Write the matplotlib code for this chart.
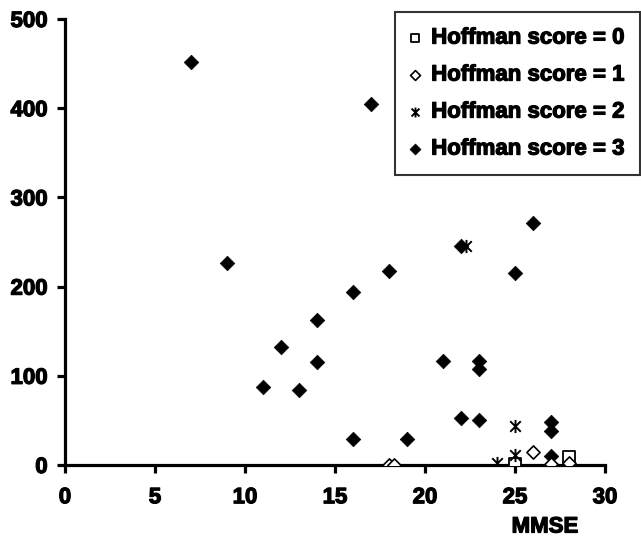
import matplotlib
matplotlib.use("Agg")
import matplotlib.pyplot as plt
import matplotlib.patheffects as pe
from matplotlib.path import Path

plt.rcParams['font.family'] = ['Liberation Sans', 'DejaVu Sans']
plt.rcParams['font.weight'] = 'bold'

# Data: MMSE (x) vs value (y), grouped by Hoffman score
score0_x = [25, 28]
score0_y = [1, 9]

score1_x = [18, 18.3, 26, 27, 28]
score1_y = [0, 0, 15, 1, 2]

score2_x = [22.3, 25, 25, 24]
score2_y = [246, 44, 11, 2]

score3_x = [7, 9, 11, 12, 13, 14, 14, 16, 16, 17, 18, 19, 21, 22, 22, 23, 23, 23,
            25, 26, 27, 27, 27, 25]
score3_y = [452, 227, 87, 132, 84, 162, 116, 194, 29, 405, 218, 29, 117, 246, 53,
            117, 108, 50, 215, 271, 48, 38, 10, 0]

labels = ["Hoffman score = 0", "Hoffman score = 1",
          "Hoffman score = 2", "Hoffman score = 3"]
x_ticks = [0, 5, 10, 15, 20, 25, 30]
y_ticks = [0, 100, 200, 300, 400, 500]

# Excel-like star marker: X plus vertical bar
star = Path([(-1, -1), (1, 1), (-1, 1), (1, -1), (0, -1.25), (0, 1.25)],
            [Path.MOVETO, Path.LINETO, Path.MOVETO, Path.LINETO, Path.MOVETO, Path.LINETO])

heavy = [pe.withStroke(linewidth=0.9, foreground='black')]

fig = plt.figure(figsize=(6.41, 5.38), dpi=100)
ax = fig.add_axes([65/641, 1-465/538, 540/641, 446/538])

ax.scatter(score0_x, score0_y, marker='s', s=70, facecolor='white', edgecolor='black',
           linewidths=1.3, label=labels[0], zorder=4)
ax.scatter(score1_x, score1_y, marker='D', s=45, facecolor='white', edgecolor='black',
           linewidths=1.2, label=labels[1], zorder=5)
ax.scatter(score2_x, score2_y, marker=star, s=90, facecolor='black', edgecolor='black',
           linewidths=1.4, label=labels[2], zorder=6)
ax.scatter(score3_x, score3_y, marker='D', s=55, facecolor='black', edgecolor='black',
           linewidths=0.5, label=labels[3], zorder=3)

ax.set_xlim(0, 30)
ax.set_ylim(0, 500)
ax.set_xticks(x_ticks)
ax.set_yticks(y_ticks)
for s in ['top', 'right']:
    ax.spines[s].set_visible(False)
for s in ['left', 'bottom']:
    ax.spines[s].set_linewidth(2.3)
    ax.spines[s].set_zorder(2)
ax.tick_params(axis='both', direction='out', length=6, width=2.3, labelsize=16)
ax.tick_params(axis='y', pad=6.5)
ax.tick_params(axis='x', pad=10)
for lab in ax.get_xticklabels() + ax.get_yticklabels():
    lab.set_fontweight('bold')
    lab.set_path_effects(heavy)

fig.text(545/641, 1-527/538, "MMSE", ha='center', va='center', fontsize=16,
         fontweight='bold', path_effects=heavy)

leg = fig.legend(loc='upper right', bbox_to_anchor=(640/641, 1-12/538),
                 borderaxespad=0, frameon=True, fancybox=False,
                 prop={'weight': 'bold', 'size': 16}, handlelength=0.4,
                 handletextpad=0.55, labelspacing=0.72, borderpad=0.7,
                 markerscale=0.75)
for t in leg.get_texts():
    t.set_path_effects(heavy)
leg.get_frame().set_edgecolor('black')
leg.get_frame().set_linewidth(1.5)

fig.savefig("out.png", dpi=100)
